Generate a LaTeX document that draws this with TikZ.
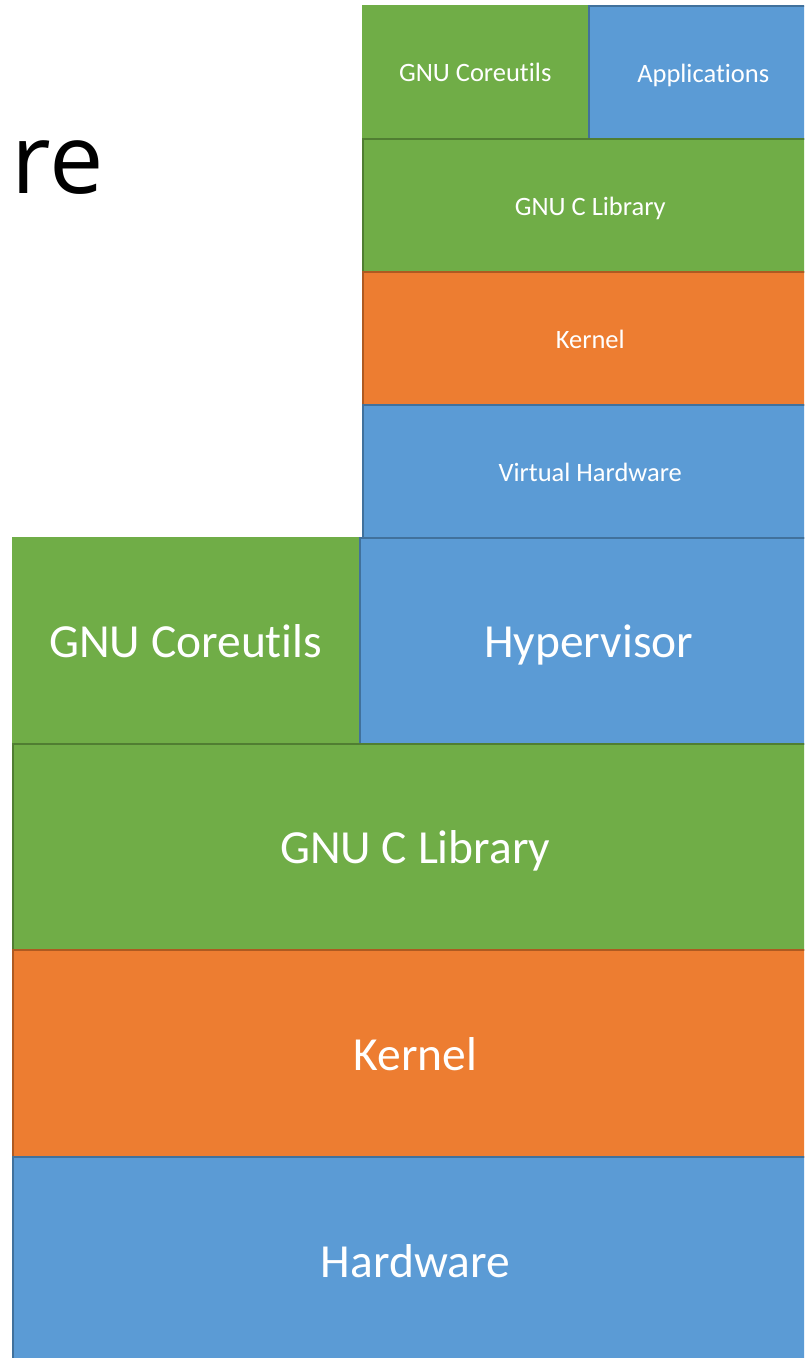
\documentclass[tikz,border=0pt]{standalone}
\usepackage{fontspec}
\setmainfont{Carlito}[Ligatures=NoCommon]
\newfontfamily\titlefont{Open Sans}
\definecolor{gfill}{HTML}{70AD47}
\definecolor{gline}{HTML}{507E32}
\definecolor{ofill}{HTML}{ED7D31}
\definecolor{oline}{HTML}{AE5A21}
\definecolor{bfill}{HTML}{5B9BD5}
\definecolor{bline}{HTML}{41719C}
\tikzset{
  layer/.style={rectangle, anchor=north west, inner sep=0pt, text=white},
  smalltxt/.style={font=\fontsize{26.5}{32}\selectfont, text height=23pt, text depth=3pt},
  bigtxt/.style={font=\fontsize{47.5}{57}\selectfont, text height=39pt, text depth=5pt},
  gbox/.style={layer, fill=gfill, draw=gline, line width=1.5pt},
  gplain/.style={layer, fill=gfill},
  obox/.style={layer, fill=ofill, draw=oline, line width=1.5pt},
  bbox/.style={layer, fill=bfill, draw=bline, line width=1.5pt},
}
\begin{document}
\begin{tikzpicture}[x=1pt,y=-1pt]
\fill[white] (0,0) rectangle (804,1358);
\useasboundingbox (0,0) rectangle (804,1358);
\clip (0,0) rectangle (804,1358);
\node[anchor=base east, inner sep=0pt, font=\titlefont\fontsize{97}{114}\selectfont] (title) at (104,193) {re};
% small stack
\node[gplain, smalltxt, minimum width=226pt, minimum height=133pt] (cu1) at (362,5) {GNU Coreutils};
\node[bbox, smalltxt, minimum width=229pt, minimum height=133pt] (app) at (588,5) {Applications};
\node[gbox, smalltxt, minimum width=455pt, minimum height=133pt] (lib1) at (362,138) {GNU C Library};
\node[obox, smalltxt, minimum width=455pt, minimum height=133pt] (ker1) at (362,271) {Kernel};
\node[bbox, smalltxt, minimum width=455pt, minimum height=133pt] (vhw) at (362,404) {Virtual Hardware};
% big stack
\node[gplain, bigtxt, minimum width=347pt, minimum height=206pt] (cu2) at (12,537) {GNU Coreutils};
\node[bbox, bigtxt, minimum width=458pt, minimum height=206pt] (hyp) at (359,537) {Hypervisor};
\node[gbox, bigtxt, minimum width=805pt, minimum height=206pt] (lib2) at (12,743) {GNU C Library};
\node[obox, bigtxt, minimum width=805pt, minimum height=207pt] (ker2) at (12,949) {Kernel};
\node[bbox, bigtxt, minimum width=805pt, minimum height=207pt] (hw) at (12,1156) {Hardware};
\end{tikzpicture}
\end{document}
